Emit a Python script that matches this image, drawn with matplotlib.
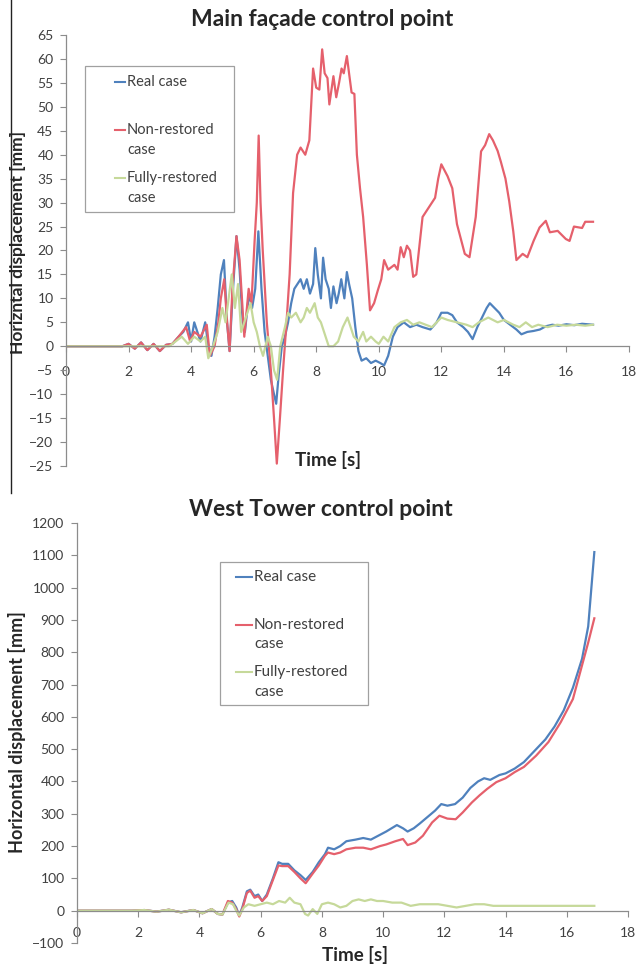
import matplotlib
matplotlib.use('Agg')
import matplotlib.pyplot as plt
from matplotlib.lines import Line2D
from matplotlib.patches import Rectangle

plt.rcParams['font.family'] = ['Lato', 'DejaVu Sans']

W, H = 637, 966
C_REAL = '#4f81bd'
C_NON = '#e5606c'
C_FULL = '#c6d99a'
AX_GREY = '#8c8c8c'
TXT = '#404040'

labels = ['Real case', 'Non-restored\ncase', 'Fully-restored\ncase']

# ---- Main facade control point (mm)
t_real_a = [0, 1.8, 2.0, 2.2, 2.4, 2.6, 2.8, 3.0, 3.2, 3.4, 3.6, 3.75, 3.9, 4.0, 4.1, 4.2, 4.3, 4.45, 4.55,
            4.65, 4.75, 4.85, 4.95, 5.05, 5.15, 5.23, 5.32, 5.45, 5.55, 5.65, 5.72, 5.85, 5.95, 6.05, 6.15,
            6.25, 6.35, 6.45, 6.55, 6.65, 6.72, 6.8, 6.9, 7.0, 7.1, 7.2, 7.3, 7.4, 7.5, 7.6, 7.7, 7.8, 7.9,
            7.97, 8.05, 8.15, 8.22, 8.3, 8.4, 8.47, 8.55, 8.65, 8.72, 8.8, 8.9, 8.98, 9.05, 9.15, 9.25, 9.35,
            9.45, 9.6, 9.75, 9.9, 10.05, 10.17, 10.3, 10.45, 10.6, 10.8, 11.0, 11.2, 11.4, 11.65, 11.85, 12.0,
            12.2, 12.35, 12.5, 12.7, 12.85, 13.0, 13.15, 13.3, 13.45, 13.55, 13.7, 13.85, 14.0, 14.2, 14.4,
            14.56, 14.75, 14.95, 15.15, 15.35, 15.55, 15.75, 16.0, 16.25, 16.5, 16.85]
v_real_a = [0, 0, 0.5, -0.5, 0.8, -0.8, 0.5, -1, 0.3, 0.5, 2, 3, 5, 1, 5, 3, 1, 5, 0,
            -2, 2, 8, 15, 18, 5, -1, 10, 23, 16, 5, 3, 11, 8, 12, 24,
            12, 3, -2, -7, -10, -12, -6, 0, 2, 5, 9, 12, 13, 14, 12, 14, 11, 13,
            20.5, 15, 10, 18.5, 14, 12, 8, 12.5, 9, 11, 14, 10, 15.5, 13, 10, 4, -1,
            -3, -2.5, -3.5, -3, -3.5, -4, -2, 2, 4, 5, 4, 4.5, 4, 3.5, 5, 7,
            7, 6.5, 5, 4, 3, 1.5, 4, 6, 8, 9, 8, 7, 5.5, 4.5, 3.5,
            2.5, 3, 3.2, 3.5, 4.2, 4.5, 4.3, 4.6, 4.4, 4.7, 4.5]

t_non_a = [0, 1.8, 2.0, 2.2, 2.4, 2.6, 2.8, 3.0, 3.2, 3.4, 3.6, 3.84, 3.97, 4.1, 4.3, 4.5, 4.6, 4.75, 4.87,
           4.95, 5.06, 5.15, 5.23, 5.32, 5.45, 5.55, 5.7, 5.84, 5.93, 6.03, 6.1, 6.16, 6.22, 6.29, 6.42,
           6.55, 6.65, 6.74, 6.84, 6.94, 7.05, 7.15, 7.26, 7.39, 7.5, 7.65, 7.78, 7.9, 8.0, 8.1, 8.19,
           8.27, 8.36, 8.42, 8.55, 8.64, 8.73, 8.81, 8.88, 8.98, 9.05, 9.13, 9.22, 9.3, 9.4, 9.5, 9.62,
           9.72, 9.85, 9.97, 10.08, 10.17, 10.3, 10.5, 10.6, 10.7, 10.8, 10.9, 11.0, 11.1, 11.2, 11.4,
           11.6, 11.8, 11.9, 12.0, 12.2, 12.35, 12.5, 12.75, 12.9, 13.1, 13.27, 13.4, 13.53, 13.65, 13.8,
           13.9, 14.05, 14.17, 14.3, 14.4, 14.6, 14.75, 14.95, 15.14, 15.34, 15.47, 15.72, 15.98, 16.1,
           16.24, 16.5, 16.6, 16.85]
v_non_a = [0, 0, 0.5, -0.5, 0.8, -0.8, 0.5, -1, 0.3, 0.5, 2, 4, 1, 3, 2, 4.5, -2, 0, 5,
           10, 14, 5, -1, 12, 23, 18, 2, 12, 9, 22, 30, 44, 30, 20, 5,
           -5, -15, -24.5, -15, -5, 5, 15, 32, 40, 41.5, 40, 43, 58, 54, 53.6, 62,
           57, 56, 50.5, 56.4, 52, 55, 58, 57, 60.6, 57, 53, 52.7, 40, 33, 27, 17,
           7.5, 9, 11.7, 14, 18, 16, 17, 16, 20.7, 18.6, 21, 20, 14.5, 15, 27,
           29, 31, 35, 38, 35.5, 33, 25.5, 19.3, 18.6, 27, 40.7, 42, 44.3, 43, 40.8,
           38.6, 35, 30.3, 24, 18, 19.3, 18.6, 22, 24.8, 26.2, 23.8, 24.1, 22.4, 22,
           25, 24.7, 26, 26]

t_full_a = [0, 3.3, 3.5, 3.7, 3.9, 4.1, 4.3, 4.45, 4.55, 4.7, 4.85, 5.0, 5.1, 5.2, 5.3, 5.4, 5.5, 5.6,
            5.75, 5.9, 6.0, 6.1, 6.2, 6.3, 6.45, 6.55, 6.65, 6.75, 6.85, 7.0, 7.1, 7.2, 7.35, 7.5, 7.6,
            7.7, 7.8, 7.95, 8.05, 8.15, 8.25, 8.4, 8.55, 8.7, 8.85, 9.0, 9.1, 9.2, 9.35, 9.5, 9.6, 9.75,
            9.9, 10.0, 10.15, 10.3, 10.5, 10.7, 10.9, 11.1, 11.3, 11.5, 11.7, 12.0, 12.2, 12.5, 12.8,
            13.0, 13.2, 13.5, 13.8, 14.0, 14.3, 14.5, 14.7, 14.9, 15.1, 15.4, 15.7, 16.0, 16.3, 16.6, 16.85]
v_full_a = [0, 0, 1, 2, 0.5, 2, 1, 2, -2.5, 0, 3, 8, 5, 10, 15, 8, 13, 3,
            6, 9, 5, 3, 0, -2, 2, 0, -5, -7, 0, 4, 7, 6, 7, 5, 6,
            8, 7, 9, 6, 5, 3, 0, 0, 1, 4, 6, 4, 2, 1, 3, 1, 2,
            1, 0.5, 2, 1, 4, 5, 5.5, 4.5, 5, 4.5, 4, 6, 5.5, 5, 4.5,
            4, 5, 6, 5, 5.5, 4.5, 4, 5, 4, 4.5, 4, 4.5, 4.3, 4.5, 4.3, 4.5]

# ---- West Tower control point (mm)
t_real_b = [0, 1.8, 2.2, 2.6, 3.0, 3.4, 3.8, 4.1, 4.4, 4.6, 4.75, 4.93, 5.07, 5.2, 5.3, 5.4, 5.55, 5.66,
            5.8, 5.92, 6.05, 6.2, 6.4, 6.58, 6.7, 6.9, 7.1, 7.3, 7.47, 7.7, 7.9, 8.1, 8.2, 8.4, 8.6, 8.8,
            9.1, 9.35, 9.6, 9.9, 10.1, 10.45, 10.65, 10.8, 11.0, 11.2, 11.45, 11.7, 11.9, 12.1, 12.35,
            12.6, 12.85, 13.1, 13.3, 13.5, 13.8, 14.0, 14.3, 14.6, 14.8, 15.0, 15.3, 15.6, 15.9, 16.2,
            16.5, 16.7, 16.9]
v_real_b = [0, 0, 2, -3, 3, -5, 2, -8, 5, -10, -12, 25, 30, 10, -15, 10, 60, 65,
            45, 50, 30, 50, 100, 150, 145, 145, 125, 110, 95, 120, 150, 175, 195, 190, 200, 215,
            220, 225, 220, 235, 245, 265, 255, 245, 255, 270, 290, 310, 330, 325, 330,
            350, 380, 400, 410, 405, 420, 425, 440, 460, 480, 500, 530, 570, 620, 690,
            780, 880, 1110]

t_non_b = [0, 1.8, 2.2, 2.6, 3.0, 3.4, 3.8, 4.1, 4.4, 4.6, 4.75, 4.93, 5.07, 5.2, 5.3, 5.4, 5.55, 5.66,
           5.8, 5.92, 6.05, 6.2, 6.4, 6.58, 6.7, 6.9, 7.1, 7.3, 7.47, 7.7, 7.9, 8.1, 8.2, 8.4, 8.6, 8.8,
           9.1, 9.35, 9.6, 9.9, 10.1, 10.4, 10.65, 10.8, 11.05, 11.3, 11.6, 11.84, 12.1, 12.37, 12.6,
           12.9, 13.15, 13.4, 13.7, 14.0, 14.3, 14.6, 15.0, 15.4, 15.8, 16.2, 16.5, 16.7, 16.9]
v_non_b = [0, 0, 2, -3, 3, -5, 2, -8, 5, -10, -12, 30, 25, 5, -18, 5, 55, 62,
           40, 45, 30, 45, 95, 140, 138, 138, 120, 100, 85, 115, 140, 170, 180, 175, 180, 190,
           195, 195, 190, 200, 205, 215, 222, 203, 211, 232, 273, 294, 285, 283, 304,
           335, 357, 377, 398, 410, 429, 445, 480, 522, 583, 655, 760, 830, 905]

t_full_b = [0, 1.8, 2.2, 2.6, 3.0, 3.4, 3.8, 4.1, 4.4, 4.6, 4.75, 4.95, 5.1, 5.2, 5.3, 5.45, 5.6, 5.8,
            6.0, 6.2, 6.4, 6.6, 6.8, 6.95, 7.1, 7.3, 7.45, 7.55, 7.7, 7.85, 8.0, 8.2, 8.4, 8.6, 8.8,
            9.0, 9.2, 9.4, 9.6, 9.8, 10.0, 10.3, 10.6, 10.9, 11.2, 11.5, 11.8, 12.1, 12.4, 12.7, 13.0,
            13.3, 13.6, 14.0, 14.5, 15.0, 15.5, 16.0, 16.5, 16.9]
v_full_b = [0, 0, 2, -3, 3, -5, 2, -8, 5, -10, -12, 25, 20, 0, -15, 10, 20, 15,
            20, 25, 20, 30, 25, 40, 25, 20, -10, -15, 5, -10, 20, 25, 20, 10, 15,
            30, 35, 30, 35, 30, 30, 25, 25, 15, 20, 20, 20, 15, 10, 15, 20,
            20, 15, 15, 15, 15, 15, 15, 15, 15]


def px_rect(left, top, right, bottom):
    return [left / W, 1 - bottom / H, (right - left) / W, (bottom - top) / H]


def style(ax, xpad):
    for s in ['top', 'right']:
        ax.spines[s].set_visible(False)
    ax.spines['bottom'].set_position(('data', 0))
    for s in ['left', 'bottom']:
        ax.spines[s].set_color(AX_GREY)
        ax.spines[s].set_linewidth(0.9)
    ax.tick_params(axis='y', direction='out', length=4, width=0.8, color=AX_GREY,
                   labelsize=10, labelcolor=TXT, pad=5)
    ax.tick_params(axis='x', direction='out', length=4, width=0.8, color=AX_GREY,
                   labelsize=10, labelcolor=TXT, pad=xpad)
    ax.set_xlim(0, 18)
    ax.set_xticks(range(0, 19, 2))


def legend(ax, box, hx, tx, ys, fs, lw=1.5):
    x0, y0, x1, y1 = box
    ax.add_patch(Rectangle((x0, y0), x1 - x0, y1 - y0, transform=ax.transAxes,
                           facecolor='white', edgecolor='#a0a0a0', lw=0.9, zorder=5))
    for c, lab, (ya, yb) in zip([C_REAL, C_NON, C_FULL], labels, ys):
        ax.add_line(Line2D(hx, [ya, ya], transform=ax.transAxes, color=c, lw=lw, zorder=6))
        parts = lab.split('\n')
        ax.text(tx, ya, parts[0], transform=ax.transAxes, va='center', ha='left',
                fontsize=fs, color=TXT, zorder=6)
        if len(parts) > 1:
            ax.text(tx, yb, parts[1], transform=ax.transAxes, va='center', ha='left',
                    fontsize=fs, color=TXT, zorder=6)


fig = plt.figure(figsize=(W / 100, H / 100), dpi=100)

# top chart
ax1 = fig.add_axes(px_rect(66, 35, 629, 466))
style(ax1, 10)
ax1.plot(t_real_a, v_real_a, color=C_REAL, lw=1.6)
ax1.plot(t_non_a, v_non_a, color=C_NON, lw=1.6)
ax1.plot(t_full_a, v_full_a, color=C_FULL, lw=1.6)
ax1.set_ylim(-25, 65)
ax1.set_yticks(range(-25, 66, 5))
legend(ax1, ((85 - 66) / 563, (466 - 212) / 431, (234 - 66) / 563, (466 - 66) / 431),
       [(115 - 66) / 563, (125 - 66) / 563], (127 - 66) / 563,
       [((466 - 82) / 431, None), ((466 - 130) / 431, (466 - 150) / 431),
        ((466 - 178) / 431, (466 - 198) / 431)], 10.5)

# bottom chart
ax2 = fig.add_axes(px_rect(77, 523, 628, 943))
style(ax2, 8)
ax2.plot(t_real_b, v_real_b, color=C_REAL, lw=1.6)
ax2.plot(t_non_b, v_non_b, color=C_NON, lw=1.6)
ax2.plot(t_full_b, v_full_b, color=C_FULL, lw=1.6)
ax2.set_ylim(-100, 1200)
ax2.set_yticks(range(-100, 1201, 100))
legend(ax2, ((220 - 77) / 551, (943 - 705) / 420, (368 - 77) / 551, (943 - 562) / 420),
       [(236 - 77) / 551, (252 - 77) / 551], (254 - 77) / 551,
       [((943 - 577) / 420, None), ((943 - 625) / 420, (943 - 644) / 420),
        ((943 - 672) / 420, (943 - 692) / 420)], 11)

# titles and axis labels
fig.text(322 / W, 1 - 20 / H, 'Main façade control point', ha='center', va='center',
         fontsize=16.5, fontweight='bold', color='#262626')
fig.text(321 / W, 1 - 510 / H, 'West Tower control point', ha='center', va='center',
         fontsize=16.5, fontweight='bold', color='#262626')
fig.text(18 / W, 1 - 242 / H, 'Horizntal displacement [mm]', rotation=90, ha='center', va='center',
         fontsize=12.5, fontweight='bold', color='#262626')
fig.text(17 / W, 1 - 732 / H, 'Horizontal displacement [mm]', rotation=90, ha='center', va='center',
         fontsize=13, fontweight='bold', color='#262626')
fig.text(328 / W, 1 - 460 / H, 'Time [s]', ha='center', va='center',
         fontsize=13.5, fontweight='bold', color='#262626')
fig.text(355 / W, 1 - 955 / H, 'Time [s]', ha='center', va='center',
         fontsize=13.5, fontweight='bold', color='#262626')

# frame line on the left of the upper panel
fig.add_artist(Line2D([11 / W, 11 / W], [1, 1 - 493 / H], color='#222222', lw=1))

fig.savefig('out.png', dpi=100)
